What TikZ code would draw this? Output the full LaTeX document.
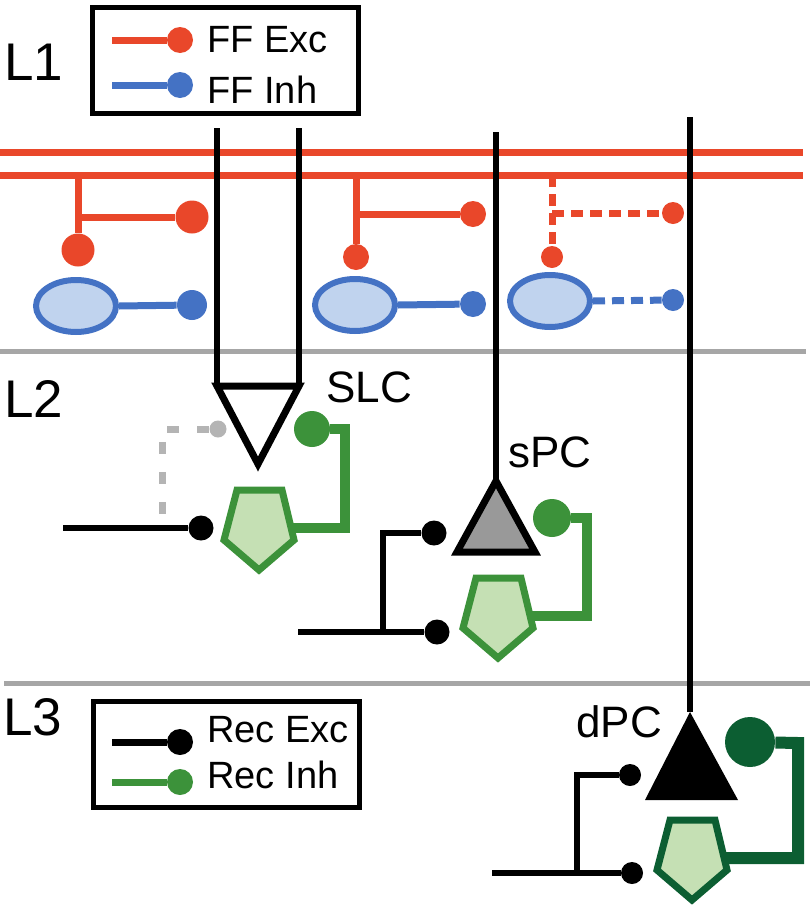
\documentclass[tikz,border=0pt]{standalone}
\usepackage{fontspec}
\setmainfont{Liberation Sans}
\usetikzlibrary{positioning,shapes.geometric}
\definecolor{ffred}{RGB}{233,71,42}
\definecolor{ffblue}{RGB}{68,114,196}
\definecolor{fflight}{RGB}{192,211,238}
\definecolor{recgreen}{RGB}{60,146,58}
\definecolor{recdark}{RGB}{12,94,50}
\definecolor{reclight}{RGB}{197,224,180}
\definecolor{layergrey}{RGB}{166,166,166}
\definecolor{somagrey}{RGB}{153,153,153}
\definecolor{silentgrey}{RGB}{180,180,180}

\begin{document}
\begin{tikzpicture}[x=0.5pt,y=-0.5pt,line join=miter]
\tikzset{
  every node/.style={inner sep=0pt},
  lbl/.style={anchor=base west,font=\fontsize{26.5}{30}\selectfont},
  celltxt/.style={anchor=base west,font=\fontsize{22}{26}\selectfont},
  legtxt/.style={anchor=base west,font=\fontsize{19}{22}\selectfont},
  legbox/.style={draw,line width=2.5pt,minimum width=133pt,minimum height=53pt},
  syn/.style={circle,fill,minimum size=#1},
  syn/.default=12.5pt,
  ffaxon/.style={line width=3.5pt,ffred},
  ffwire/.style={line width=3.5pt,ffred},
  inhwire/.style={line width=3.5pt,ffblue},
  weak/.style={dash pattern=on 6pt off 3.5pt},
  ffcell/.style={ellipse,draw=ffblue,fill=fflight,line width=3pt,minimum width=40pt,minimum height=26pt},
  dend/.style={line width=3pt},
  excwire/.style={line width=3pt},
  recwire/.style={line width=5pt},
  silent/.style={line width=3.5pt,silentgrey,dash pattern=on 6pt off 9pt},
  soma/.style={line width=3.5pt,draw=black},
  layer/.style={line width=2.5pt,layergrey},
  inhcell/.pic={
    \draw[line width=3.5pt,fill=reclight] (-22,-40) -- (23,-40) -- (35,10) -- (0,40) -- (-35,10) -- cycle;
    \coordinate (-out) at (31,-2);
  }
}
\useasboundingbox (0,0) rectangle (810,905);

% layers
\draw[layer] (0,351) -- (806,351);
\draw[layer] (4,683) -- (810,683);
\node[lbl] (l1) at (4,80) {L1};
\node[lbl] (l2) at (4,417) {L2};
\node[lbl] (l3) at (3,735) {L3};

% legends
\node[legbox] (ffleg) at (225.5,60) {};
\coordinate (lege0) at (112,40);
\coordinate (legi0) at (112,85);
\node[syn=13pt,ffred] (lege) at (180,40) {};
\node[syn=13pt,ffblue] (legi) at (180,85) {};
\draw[ffwire] (lege0) -- (lege);
\draw[inhwire] (legi0) -- (legi);
\node[legtxt] (legetxt) at (207,52) {FF Exc};
\node[legtxt] (legitxt) at (207,103) {FF Inh};

\node[legbox] (recleg) at (226,754.5) {};
\coordinate (recx0) at (112,742);
\coordinate (reci0) at (112,782);
\node[syn=13pt,black] (recx) at (180,742) {};
\node[syn=13pt,recgreen] (reci) at (180,782) {};
\draw[excwire,line width=3.5pt] (recx0) -- (recx);
\draw[excwire,line width=3.5pt,recgreen] (reci0) -- (reci);
\node[legtxt] (recxtxt) at (207,742) {Rec Exc};
\node[legtxt] (recitxt) at (207,788) {Rec Inh};

% feedforward input
\draw[ffaxon] (0,152) -- (803,152);
\draw[ffaxon] (0,175) -- (803,175);

% feedforward inhibitory cells
\node[ffcell] (ff1) at (76,306) {};
\node[ffcell] (ff2) at (355,305) {};
\node[ffcell] (ff3) at (550,301) {};

\coordinate (br1) at (78,175);  \coordinate (j1) at (78,217);
\coordinate (br2) at (356,175); \coordinate (j2) at (356,214);
\coordinate (br3) at (552,175); \coordinate (j3) at (552,213);
\node[syn=16.5pt,ffred] (fe1b) at (78,250) {};
\node[syn=16.5pt,ffred] (fe1a) at (192,217) {};
\node[syn=13pt,ffred] (fe2b) at (356,257) {};
\node[syn=13pt,ffred] (fe2a) at (473,214) {};
\node[syn=11pt,ffred] (fe3b) at (552,257) {};
\node[syn=11pt,ffred] (fe3a) at (673,213) {};
\node[syn=15pt,ffblue] (fi1) at (192,305) {};
\node[syn=13pt,ffblue] (fi2) at (473,304) {};
\node[syn=11pt,ffblue] (fi3) at (673,300) {};

\draw[ffwire] (br1) -- (fe1b) (j1) -- (fe1a);
\draw[ffwire] (br2) -- (fe2b) (j2) -- (fe2a);
\draw[ffwire,weak] (br3) -- (fe3b) (j3) -- (fe3a);
\draw[inhwire] (ff1.east) -- (fi1);
\draw[inhwire] (ff2.east) -- (fi2);
\draw[inhwire,weak] (ff3.east) -- (fi3);

% SLC
\coordinate (slcA) at (217,386);
\coordinate (slcB) at (299,386);
\coordinate (slcC) at (258,464);
\coordinate (slcT1) at (217,128);
\coordinate (slcT2) at (299,128);
\draw[dend] (slcT1) -- (slcA);
\draw[dend] (slcT2) -- (slcB);
\draw[soma,fill=white] (slcA) -- (slcB) -- (slcC) -- cycle;
\node[celltxt] (slclbl) at (326,402) {SLC};

\node[syn=8.5pt,silentgrey] (sildot) at (218,429) {};
\coordinate (silend) at (162,523);
\draw[silent] (sildot) -| (silend);
\coordinate (slcsrc) at (63,528);
\node[syn] (slcin) at (201,528) {};
\draw[excwire] (slcsrc) -- (slcin);

\pic[recgreen] (inh1) at (259,530) {inhcell};
\coordinate (g1c) at (345,429);
\node[syn=18pt,recgreen] (gd1) at (312,429) {};
\draw[recwire,recgreen] (inh1-out) -| (g1c) -- (gd1);

% sPC
\coordinate (spcA) at (496,481);
\coordinate (spcB) at (457,552);
\coordinate (spcC) at (535,552);
\coordinate (spcT) at (496,132);
\draw[dend] (spcT) -- (spcA);
\draw[soma,fill=somagrey] (spcA) -- (spcB) -- (spcC) -- cycle;
\node[celltxt] (spclbl) at (508,467) {sPC};

\node[syn] (spcin1) at (434,533) {};
\node[syn] (spcin2) at (437,632) {};
\coordinate (spcsrc) at (298,632);
\coordinate (spcfork) at (383,632);
\draw[excwire] (spcsrc) -- (spcin2);
\draw[excwire] (spcin1) -| (spcfork);

\pic[recgreen] (inh2) at (498,618) {inhcell};
\coordinate (g2c) at (587,518);
\node[syn=19pt,recgreen] (gd2) at (552,518) {};
\draw[recwire,recgreen] (inh2-out) -| (g2c) -- (gd2);

% dPC
\coordinate (dpcA) at (690,712);
\coordinate (dpcB) at (645,800);
\coordinate (dpcC) at (738,800);
\coordinate (dpcT) at (690,117);
\draw[dend] (dpcT) -- (dpcA);
\fill (dpcA) -- (dpcB) -- (dpcC) -- cycle;
\node[celltxt] (dpclbl) at (576,737) {dPC};

\node[syn=11pt] (dpcin1) at (630,775) {};
\node[syn=11pt] (dpcin2) at (632,873) {};
\coordinate (dpcsrc) at (492,873);
\coordinate (dpcfork) at (577,873);
\draw[excwire] (dpcsrc) -- (dpcin2);
\draw[excwire] (dpcin1) -| (dpcfork);

\pic[recdark] (inh3) at (692,860) {inhcell};
\coordinate (g3c) at (798,743);
\node[syn=25pt,recdark] (gd3) at (750,742) {};
\draw[recwire,recdark,line width=6pt] (inh3-out) -| (g3c) -- (gd3);
\end{tikzpicture}
\end{document}
